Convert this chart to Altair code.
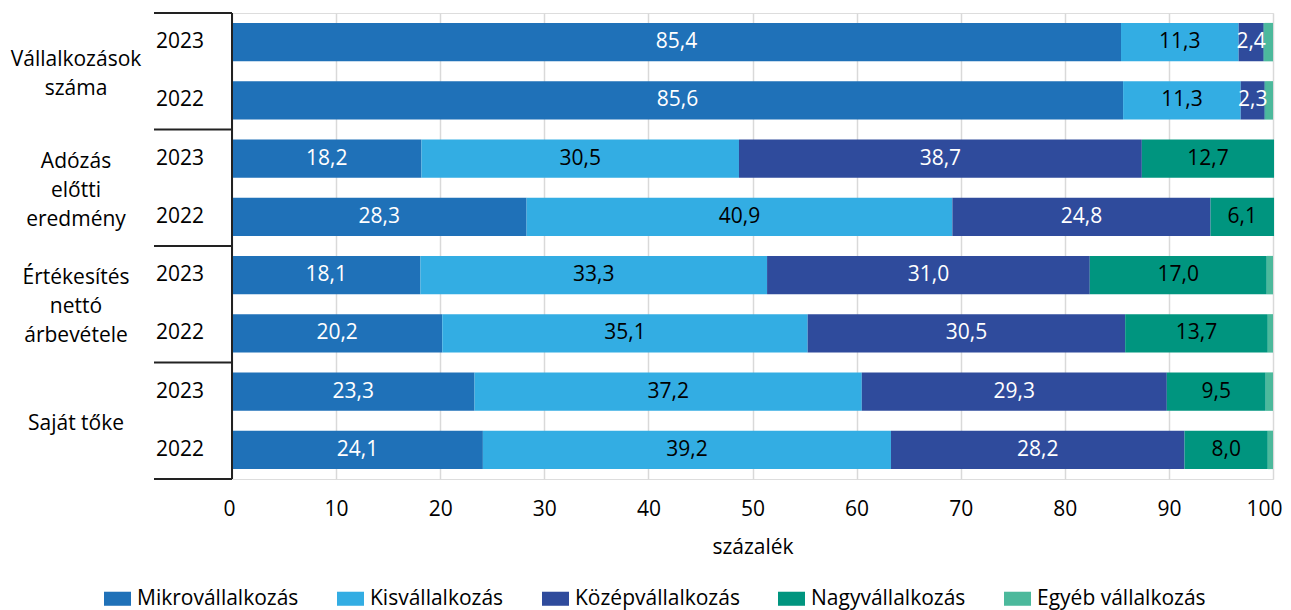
import altair as alt
import pandas as pd

groups = ["Vállalkozások\nszáma", "Adózás\nelőtti\neredmény", "Értékesítés\nnettó\nárbevétele", "Saját tőke"]
years = ["2023", "2022"]
sizes = ["Mikrovállalkozás", "Kisvállalkozás", "Középvállalkozás", "Nagyvállalkozás", "Egyéb vállalkozás"]
colors = ["#1f71b8", "#33ade3", "#2f4b9c", "#00957f", "#4cb99c"]
label_colors = ["white", "black", "white", "black", "black"]

# rows in display order (top to bottom)
mikro = [85.4, 85.6, 18.2, 28.3, 18.1, 20.2, 23.3, 24.1]
kis = [11.3, 11.3, 30.5, 40.9, 33.3, 35.1, 37.2, 39.2]
kozep = [2.4, 2.3, 38.7, 24.8, 31.0, 30.5, 29.3, 28.2]
nagy = [0.1, 0.1, 12.7, 6.1, 17.0, 13.7, 9.5, 8.0]
egyeb = [0.8, 0.7, 0.0, 0.0, 0.6, 0.5, 0.7, 0.5]

series = [mikro, kis, kozep, nagy, egyeb]
recs = []
for r in range(8):
    start = 0.0
    for k, s in enumerate(sizes):
        v = series[k][r]
        recs.append({
            "row": r, "y0": r + 0.17, "y1": r + 0.83, "ym": r + 0.5,
            "size": s, "x0": start, "x1": start + v, "xm": start + v / 2,
            "lab": (f"{v:.1f}".replace(".", ",") if v >= 2 else ""),
            "tc": label_colors[k],
        })
        start += v
df = pd.DataFrame(recs)

LH = 29            # line height of group labels in px
ROW_PX = 466 / 8   # px per row unit
year_df = pd.DataFrame({"ym": [r + 0.5 for r in range(8)], "year": [years[r % 2] for r in range(8)]})
group_df = pd.DataFrame({
    "gm": [2 * g + 1 - (g_lbl.count("\n")) * LH / 2 / ROW_PX + 0.05 for g, g_lbl in enumerate(groups)],
    "g": groups,
})
sep_df = pd.DataFrame({"s": [0, 2, 4, 6, 8]})

FONT = "Open Sans"
FS = 21
xs = alt.Scale(domain=[0, 100], nice=False)
ys = alt.Scale(domain=[0, 8], reverse=True, nice=False)

bars = alt.Chart(df).mark_bar().encode(
    x=alt.X("x0:Q", scale=xs,
            axis=alt.Axis(values=list(range(0, 101, 10)), title="százalék", grid=True,
                          gridColor="#d9d9d9", gridWidth=1.5, domain=False, ticks=False,
                          labelFlush=True, labelFlushOffset=9, labelOverlap=False,
                          labelFontSize=FS, labelPadding=19, labelColor="black",
                          titleFontSize=FS, titleFontWeight="normal", titlePadding=17,
                          titleColor="black", labelFont=FONT, titleFont=FONT)),
    x2="x1:Q",
    y=alt.Y("y0:Q", scale=ys, axis=None),
    y2="y1:Q",
    color=alt.Color("size:N", scale=alt.Scale(domain=sizes, range=colors),
                    legend=alt.Legend(title=None, orient="none", legendX=-128, legendY=572,
                                      direction="horizontal", columns=5,
                                      symbolType="M-1,-0.52L1,-0.52L1,0.52L-1,0.52Z",
                                      symbolSize=729, symbolStrokeWidth=0,
                                      labelFontSize=FS, labelFont=FONT, labelColor="black",
                                      labelLimit=300, columnPadding=38, labelOffset=6)),
)

texts = alt.Chart(df).mark_text(fontSize=FS, font=FONT).encode(
    x=alt.X("xm:Q", scale=xs),
    y=alt.Y("ym:Q", scale=ys),
    text="lab:N",
    color=alt.Color("tc:N", scale=None),
)

yaxis_line = alt.Chart(sep_df).mark_rule(color="#222222", strokeWidth=2).encode(
    x=alt.value(0), y=alt.value(0), y2=alt.value(466)
)

seps = alt.Chart(sep_df).mark_rule(color="#222222", strokeWidth=2).encode(
    x=alt.value(-78), x2=alt.value(0),
    y=alt.Y("s:Q", scale=ys),
)

year_text = alt.Chart(year_df).mark_text(fontSize=FS, font=FONT, align="center", color="black").encode(
    x=alt.value(-52),
    y=alt.Y("ym:Q", scale=ys),
    text="year:N",
)

group_text = alt.Chart(group_df).mark_text(fontSize=FS, font=FONT, align="center", color="black",
                                          lineBreak="\n", lineHeight=LH).encode(
    x=alt.value(-156),
    y=alt.Y("gm:Q", scale=ys),
    text="g:N",
)

chart = alt.layer(bars, texts, seps, yaxis_line, year_text, group_text).properties(
    width=1041, height=466,
    autosize=alt.AutoSizeParams(type="none"),
    padding={"left": 224, "top": 5, "right": 10, "bottom": 150},
).configure_view(stroke=None).configure(background="white")

chart.save("out.html", embed_options={"renderer": "svg", "actions": False})
